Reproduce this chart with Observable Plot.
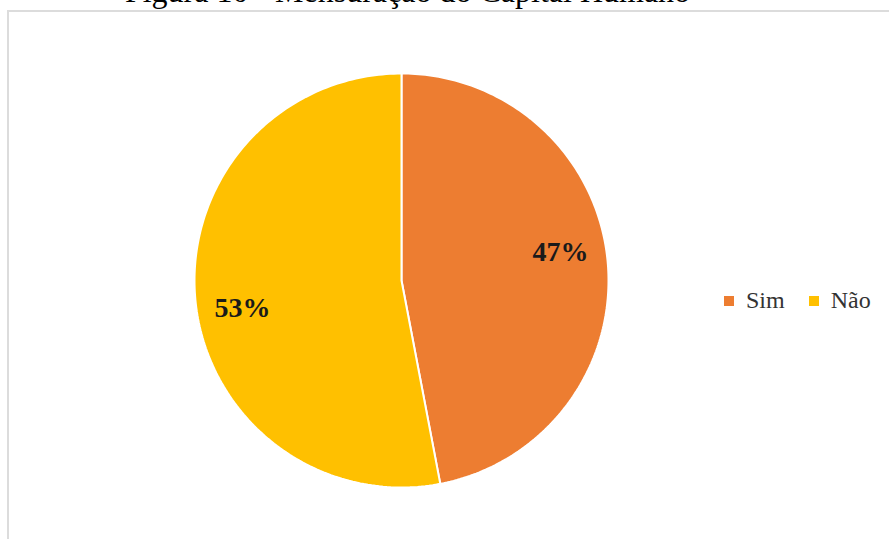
<!DOCTYPE html>
<html>
<head>
<meta charset="utf-8">
<script src="https://cdn.jsdelivr.net/npm/d3@7"></script>
<script src="https://cdn.jsdelivr.net/npm/@observablehq/plot@0.6"></script>
<style>
  body { margin: 0; background: #fff; }
  #wrap { position: relative; width: 889px; height: 539px; overflow: hidden; background: #fff; }
  #frame { position: absolute; left: 7px; top: 10px; width: 900px; height: 600px; border: 2px solid #dcdcdc; box-sizing: border-box; }
  #title { position: absolute; left: 0; width: 815px; text-align: center; top: -25px; font-family: "Liberation Serif", serif; font-size: 32px; color: #000; line-height: 32px; white-space: nowrap; }
  #chart { position: absolute; left: 0; top: 0; }
  #legend { position: absolute; left: 724px; top: 284px; width: 320px; }
</style>
</head>
<body>
<div id="wrap">
  <div id="frame"></div>
  <div id="title">Figura 10 - Mensuração do Capital Humano</div>
  <div id="chart"></div>
  <div id="legend"></div>
</div>
<script>
const categories = ["Sim", "Não"];
const values = [47, 53];
const labels = ["47%", "53%"];
const colors = ["#ED7D31", "#FFC000"];

const data = categories.map((c, i) => ({key: c, value: values[i], label: labels[i]}));
const arcs = d3.pie().sort(null).value(d => d.value)(data);

// polygon outline of each slice (unit circle, y up, clockwise from 12 o'clock)
const outline = [];
for (const a of arcs) {
  outline.push({key: a.data.key, x: 0, y: 0});
  const n = 180;
  for (let k = 0; k <= n; k++) {
    const t = a.startAngle + (a.endAngle - a.startAngle) * k / n;
    outline.push({key: a.data.key, x: Math.sin(t), y: Math.cos(t)});
  }
  outline.push({key: a.data.key, x: 0, y: 0});
}
const labelPts = arcs.map(a => {
  const m = (a.startAngle + a.endAngle) / 2 - 0.08;
  return {label: a.data.label, x: 0.78 * Math.sin(m), y: 0.78 * Math.cos(m)};
});

const W = 889, H = 539, cx = 401, cy = 280, R = 207;
const plot = Plot.plot({
  width: W, height: H,
  margin: 0,
  x: {domain: [-cx / R, (W - cx) / R], axis: null},
  y: {domain: [-(H - cy) / R, cy / R], axis: null},
  color: {domain: categories, range: colors},
  style: {fontFamily: "Liberation Serif", background: "transparent"},
  marks: [
    Plot.line(outline, {x: "x", y: "y", z: "key", fill: "key", stroke: "white", strokeWidth: 2, strokeLinejoin: "miter"}),
    Plot.text(labelPts, {x: "x", y: "y", text: "label", fontSize: 28, fontWeight: "bold", fill: "#1a1a1a", fontFamily: "Liberation Serif"})
  ]
});
document.getElementById("chart").appendChild(plot);

const leg = Plot.legend({
  color: {domain: categories, range: colors},
  legend: "swatches",
  swatchSize: 10,
  style: {fontFamily: "Liberation Serif", fontSize: "24px", color: "#333"}
});
document.getElementById("legend").appendChild(leg);
</script>
</body>
</html>
